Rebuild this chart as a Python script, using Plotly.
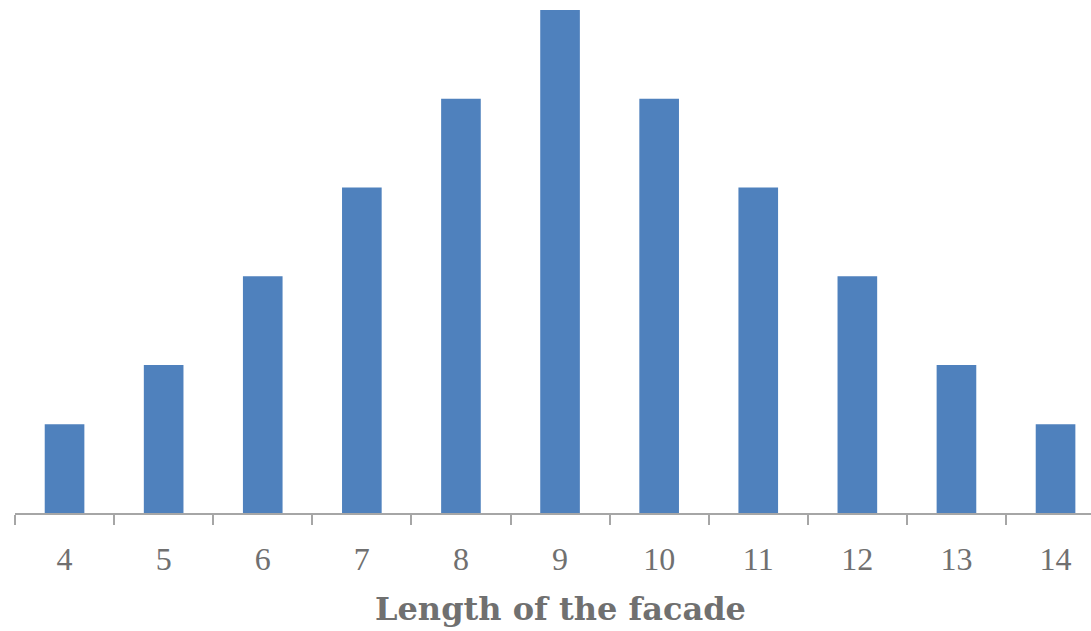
import plotly.graph_objects as go

lengths = [4, 5, 6, 7, 8, 9, 10, 11, 12, 13, 14]
counts = [3, 5, 8, 11, 14, 17, 14, 11, 8, 5, 3]
tick_labels = [str(v) for v in lengths]

W, H = 1091, 631
L, B = 15, 118
plot_w = W - L

fig = go.Figure(go.Bar(x=lengths, y=counts, width=0.4, marker=dict(color="#4f81bd", line=dict(width=0))))

font_family = "Georgia, 'Liberation Serif', 'DejaVu Serif', serif"
title_family = "Georgia, 'DejaVu Serif', serif"

fig.update_layout(
    width=W, height=H,
    margin=dict(l=L, r=0, t=0, b=B),
    paper_bgcolor="white", plot_bgcolor="white",
    showlegend=False,
    xaxis=dict(
        range=[3.5, 3.5 + plot_w / 99.1],
        tickvals=lengths, ticktext=tick_labels,
        ticks="", showgrid=False, zeroline=False,
        showline=True, linecolor="#a6a6a6", linewidth=2,
        tickfont=dict(family=font_family, size=32, color="#707070"),
        ticklabelstandoff=17,
        minor=dict(tick0=3.5, dtick=1, ticks="outside", ticklen=10, tickwidth=1.5, tickcolor="#a6a6a6", showgrid=False),
    ),
    yaxis=dict(range=[0, 17 * 513 / 503], visible=False, showgrid=False, zeroline=False),
    annotations=[dict(
        text="<b>Length of the facade</b>", xref="paper", yref="paper",
        x=(560 - L) / plot_w, y=0, xanchor="center", yanchor="middle", yshift=-96,
        showarrow=False, font=dict(family=title_family, size=32, color="#707070"),
    )],
)

fig.write_html("out.html")
